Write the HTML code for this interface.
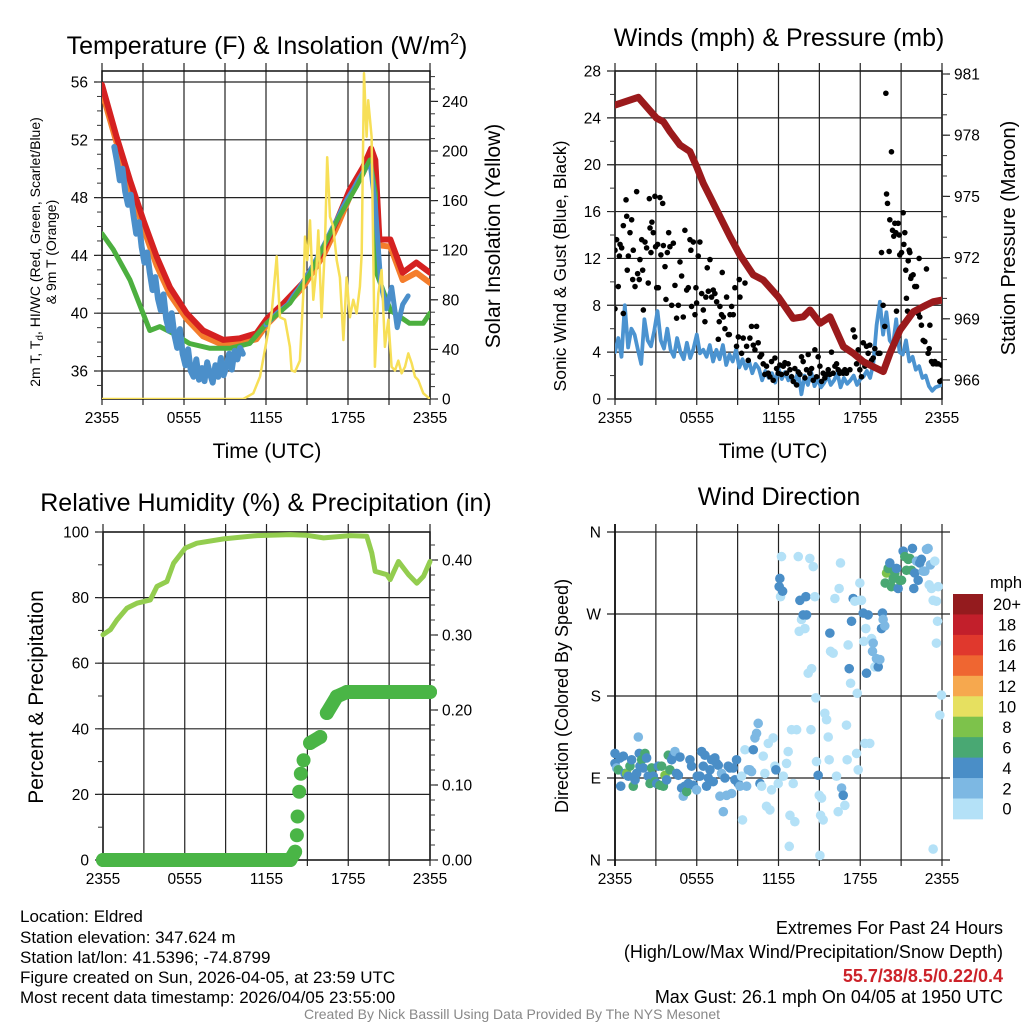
<!DOCTYPE html>
<html><head><meta charset="utf-8">
<style>
html,body{margin:0;padding:0;background:#fff;}
svg{display:block;font-family:"Liberation Sans",Arial,sans-serif;}
</style></head>
<body>
<svg id="fig" width="1024" height="1024" viewBox="0 0 1024 1024" xmlns="http://www.w3.org/2000/svg">
<rect x="0" y="0" width="1024" height="1024" fill="#fff"/>
<g id="g1"></g>
<g id="g2"></g>
<g id="g3"></g>
<g id="g4"></g>
<text x="267" y="54" font-size="25" text-anchor="middle">Temperature (F) &amp; Insolation (W/m<tspan dy="-10" font-size="16">2</tspan><tspan dy="10">)</tspan></text>
<text x="779" y="46" font-size="25" text-anchor="middle">Winds (mph) &amp; Pressure (mb)</text>
<text x="266" y="511" font-size="25" text-anchor="middle">Relative Humidity (%) &amp; Precipitation (in)</text>
<text x="779" y="505" font-size="25" text-anchor="middle">Wind Direction</text>
<text x="267" y="458" font-size="21" text-anchor="middle">Time (UTC)</text>
<text x="773" y="458" font-size="21" text-anchor="middle">Time (UTC)</text>
<text transform="translate(40,252) rotate(-90)" font-size="14" text-anchor="middle">2m T, T<tspan dy="3" font-size="10">d</tspan><tspan dy="-3">, HI/WC (Red, Green, Scarlet/Blue)</tspan></text>
<text transform="translate(56,252) rotate(-90)" font-size="14" text-anchor="middle">&amp; 9m T (Orange)</text>
<text transform="translate(500,236) rotate(-90)" font-size="21" text-anchor="middle">Solar Insolation (Yellow)</text>
<text transform="translate(566,266) rotate(-90)" font-size="17.5" text-anchor="middle">Sonic Wind &amp; Gust (Blue, Black)</text>
<text transform="translate(1015,238) rotate(-90)" font-size="20" text-anchor="middle">Station Pressure (Maroon)</text>
<text transform="translate(43,697) rotate(-90)" font-size="21" text-anchor="middle">Percent &amp; Precipitation</text>
<text transform="translate(568,696) rotate(-90)" font-size="18" text-anchor="middle">Direction (Colored By Speed)</text>
<g font-size="17">
<text x="20" y="922">Location: Eldred</text>
<text x="20" y="943">Station elevation: 347.624 m</text>
<text x="20" y="963">Station lat/lon: 41.5396; -74.8799</text>
<text x="20" y="983">Figure created on Sun, 2026-04-05, at 23:59 UTC</text>
<text x="20" y="1003">Most recent data timestamp: 2026/04/05 23:55:00</text>
</g>
<g font-size="18" text-anchor="end">
<text x="1003" y="934">Extremes For Past 24 Hours</text>
<text x="1003" y="958">(High/Low/Max Wind/Precipitation/Snow Depth)</text>
<text x="1003" y="982" fill="#cc2229" font-weight="bold">55.7/38/8.5/0.22/0.4</text>
<text x="1003" y="1003">Max Gust: 26.1 mph On 04/05 at 1950 UTC</text>
</g>
<text x="512" y="1019" font-size="14" fill="#888" text-anchor="middle">Created By Nick Bassill Using Data Provided By The NYS Mesonet</text>
</svg>
<script>
// ---------- data ----------
const xTickHours = [0, 6, 12, 18, 24];
const xTickLabels = ["2355", "0555", "1155", "1755", "2355"];
const tempTicks = [36, 40, 44, 48, 52, 56];
const solarTicks = [0, 40, 80, 120, 160, 200, 240];
const windTicks = [0, 4, 8, 12, 16, 20, 24, 28];
const presTicks = [966, 969, 972, 975, 978, 981];
const rhTicks = [0, 20, 40, 60, 80, 100];
const precipTicks = [0, 0.1, 0.2, 0.3, 0.4];
const dirTicks = [0, 90, 180, 270, 360];
const dirLabels = ["N", "E", "S", "W", "N"];

const tempHours = [0,1.07,2.05,3.02,4.0,4.97,6.2,7.4,8.87,10.1,11.3,12.05,13.3,14.7,16.2,17.2,18.1,19.1,19.7,20.0,20.3,21.1,22.0,23.0,24];
const temp2m = [55.8,52.2,49.2,46.45,43.9,41.8,40.0,38.8,38.15,38.26,38.6,39.6,40.7,42.1,44.4,46.45,48.5,50.1,51.4,50.6,45.1,45.1,42.8,43.5,42.8];
const temp9m = [55.3,51.8,48.7,45.9,43.3,41.3,39.6,38.4,37.8,37.9,38.2,39.2,40.4,41.8,44.0,46.0,48.0,49.7,51.0,50.3,44.7,44.6,42.3,42.8,42.1];
const hiwcHours = [0,0.83,2.05,3.0,3.5,4.24,5.2,6.4,7.9,9.36,10.8,12.05,13.75,15.2,17.2,18.6,19.6,20.0,20.1,21.1,22.5,23.5,24];
const hiwc = [45.5,44.4,42.3,40.0,38.8,39.07,38.6,37.9,37.57,37.57,37.9,39.3,40.7,42.76,46.45,48.75,50.6,48.3,42.76,40.2,39.3,39.3,40.0];
const dewStartA = 0.9, dewStepA = 0.2;
const dewA = [51.5,50.5,49.2,50.0,48.4,47.5,48.2,46.8,45.5,46.3,44.6,43.5,44.2,42.8,41.6,42.5,41.0,40.2,41.3,39.6,38.8,40.0,38.5,37.6,38.9,37.2,36.4,37.5,36.0,35.6,36.8,35.4,36.2,35.3,36.6,35.8,35.2,36.4,35.6,36.9,35.7,36.3,37.2,36.1,37.4,36.8,37.6,37.2];
const dewStartB = 12.0, dewStepB = 0.4;
const dewB = [39.2,39.6,40.0,40.3,40.6,41.2,41.7,42.3,42.9,43.6,44.3,45.0,45.8,46.5,47.3,48.0,48.6,49.3,49.9,50.5,47.5,42.0,40.3,41.8,39.0,40.6,41.2];
const solarHours = [0,10.34,11.07,11.56,12.05,12.41,12.78,13.02,13.39,13.75,13.87,14.12,14.48,14.73,14.85,15.02,15.22,15.46,15.7,15.83,16.07,16.31,16.48,16.68,16.92,17.17,17.41,17.66,17.9,18.14,18.39,18.63,18.87,19.0,19.17,19.36,19.48,19.73,19.97,20.22,20.46,20.7,20.95,21.19,21.44,21.68,21.92,22.17,22.41,22.66,22.9,23.14,23.51,24];
const solar = [0,0,4.6,18,47.6,69,115,66,64,42,23,22,31,85,131,112,144,80,107,136,66,123,195,147,139,112,98,47.6,98,66,80,69,90.6,117.5,262.7,211.5,241,211.5,26,85,104,42,64,26,23,31,20.7,26,36.8,28.8,18,15.3,4.6,0];

const windStep = 0.24;
const wind = [4,5.2,3.6,8,4.4,6,5.5,4.2,3,6.8,5,4.5,5.8,7.5,5,4.3,
6,4.2,3.6,5.2,4,3.4,4.8,3.5,4.3,5.5,3.9,4.2,
3.6,4.6,3.2,4.2,3.4,4.6,2.9,3.8,3.2,4.2,2.7,3.4,
2.6,3.2,2.2,3.0,2.6,1.6,2.4,1.8,2.2,1.4,2.6,1.7,
2.3,1.6,2.0,1.3,2.4,0.4,2.0,1.2,2.3,1.1,1.7,1.0,
1.4,2.0,1.2,1.6,2.2,1.0,1.8,1.3,1.6,2.0,1.2,1.7,
1.9,2.4,1.8,3.0,6.3,8.3,5.5,7.4,5.0,4.6,6.8,4.0,
3.8,5.0,3.2,3.6,2.5,2.8,1.8,2.0,1.1,0.7,1.0,1.1,1.2];
const gustObs = [[0,7.7],[0,12.7],[0.12,13.6],[0.24,9.6],[0.32,12.2],[0.37,13.2],[0.49,12.9],[0.61,14.8],[0.61,7.3],[0.81,17.0],
[0.86,15.6],[0.9,11.0],[0.98,12.2],[1.1,14.2],[1.22,15.3],[1.3,10.2],[1.34,12.7],[1.47,9.6],[1.59,17.7],[1.66,10.7],
[1.78,10.2],[1.83,11.9],[1.96,13.6],[2.03,11.0],[2.08,7.6],[2.2,13.4],[2.32,12.9],[2.44,9.9],[2.52,17.1],[2.57,14.6],
[2.64,12.5],[2.71,15.1],[2.81,14.2],[2.93,17.3],[2.98,13.0],[3.06,9.5],[3.13,13.2],[3.18,9.5],[3.3,17.2],[3.37,12.3],
[3.5,16.7],[3.55,13.1],[3.67,11.3],[3.74,8.5],[3.84,12.5],[3.94,14.2],[4.03,13.0],[4.16,8.0],[4.28,13.3],[4.4,9.7],
[4.52,6.9],[4.65,8.0],[4.77,11.7],[4.89,10.5],[5.01,7.0],[5.13,14.4],[5.26,9.3],[5.38,9.5],[5.5,13.6],[5.57,12.7],
[5.62,7.9],[5.75,13.4],[5.87,7.2],[5.94,9.5],[5.99,8.2],[6.11,12.2],[6.23,13.4],[6.36,9.0],[6.48,7.6],[6.6,6.6],
[6.67,8.7],[6.77,11.2],[6.85,9.2],[6.97,11.9],[7.09,8.7],[7.21,9.3],[7.33,9.0],[7.46,8.3],[7.58,5.1],[7.65,6.6],
[7.7,7.9],[7.82,7.2],[7.87,10.8],[7.95,7.0],[8.07,6.0],[8.19,8.7],[8.31,5.5],[8.39,5.5],[8.44,7.2],[8.56,7.9],
[8.68,7.2],[8.8,9.5],[8.92,4.5],[9.05,5.3],[9.12,10.2],[9.17,8.7],[9.29,3.9],[9.41,5.2],[9.54,9.9],[9.66,4.5],
[9.78,3.3],[9.9,5.2],[10.02,6.2],[10.15,4.6],[10.27,4.2],[10.39,6.2],[10.51,4.8],[10.64,3.6],[10.76,3.8],[10.88,3.0],
[11.0,2.1],[11.12,2.8],[11.25,2.2],[11.37,1.9],[11.49,3.2],[11.61,1.6],[11.74,3.5],[11.86,2.6],[11.98,2.2],[12.1,2.9],
[12.22,2.1],[12.35,2.8],[12.47,3.1],[12.59,2.2],[12.71,3.0],[12.84,2.5],[12.96,1.9],[13.08,1.5],[13.2,2.6],[13.33,1.2],
[13.45,2.3],[13.57,2.1],[13.69,3.6],[13.81,3.2],[13.94,1.8],[14.06,2.5],[14.18,3.8],[14.3,2.2],[14.43,2.6],[14.55,1.6],
[14.67,4.2],[14.79,1.9],[14.91,3.6],[15.04,2.8],[15.16,1.5],[15.28,2.2],[15.4,1.8],[15.53,2.1],[15.65,2.5],[15.77,2.1],
[15.89,4.0],[16.01,2.2],[16.14,2.8],[16.26,3.0],[16.38,2.5],[16.5,2.2],[16.63,2.3],[16.75,2.2],[16.87,2.5],[16.99,2.2],
[17.24,2.5],[17.48,5.9],[17.6,5.3],[17.73,3.0],[17.85,4.2],[17.97,2.5],[18.09,1.9],[18.22,4.8],[18.34,2.8],[18.46,4.5],
[18.58,3.9],[18.7,4.6],[18.83,3.3],[18.95,3.5],[19.07,4.3],[19.19,2.6],[19.32,3.9],[19.44,3.9],[19.56,12.5],[19.68,8.0],
[19.8,6.2],[19.88,26.1],[19.93,17.5],[20.0,16.7],[20.12,12.6],[20.17,15.3],[20.29,21.1],[20.37,14.4],[20.46,13.9],[20.54,15.0],
[20.61,14.2],[20.66,7.5],[20.78,15.0],[20.86,14.0],[20.9,12.3],[21.03,12.5],[21.15,15.9],[21.2,13.2],[21.27,14.2],[21.34,11.0],
[21.39,8.6],[21.47,7.5],[21.52,11.8],[21.59,12.7],[21.64,12.5],[21.71,10.3],[21.76,10.5],[21.88,10.6],[22.0,9.6],[22.13,9.6],
[22.25,7.3],[22.32,12.0],[22.37,7.0],[22.49,6.3],[22.62,5.0],[22.74,4.9],[22.86,11.1],[22.98,3.9],[23.06,4.3],[23.11,6.3],
[23.23,3.2],[23.35,3.0],[23.47,3.2],[23.59,3.0],[23.72,3.0],[23.84,1.5],[23.96,2.9],[24.0,1.6],[24.0,2.9]];
const presHours = [0,1.71,3.06,3.55,4.04,4.77,5.5,5.99,6.48,6.97,7.83,8.44,9.17,10.15,10.88,11.98,13.08,13.82,14.31,15.05,15.78,16.76,17.49,18.22,18.96,19.69,20.18,20.92,21.9,22.88,23.37,24];
const pressure = [979.48,979.86,978.83,978.66,978.17,977.52,977.2,976.46,975.64,974.99,973.84,973.03,972.13,971.15,970.9,970.08,969.02,969.1,969.43,968.78,969.1,967.63,967.31,966.9,966.65,966.41,967.31,968.45,969.35,969.68,969.84,969.92];

const rhHours = [0,0.54,1.03,1.76,2.49,3.47,3.96,4.69,5.18,6.04,6.89,8.85,11.3,13.74,14.96,16.19,18.14,19.36,19.73,19.98,20.83,21.08,21.69,22.42,23.03,23.52,24];
const rh = [68.7,70.2,73.2,76.8,78.3,79.3,83.4,84.9,90.5,95.1,96.6,97.9,98.9,99.2,99.0,98.2,98.9,98.7,93.6,88.0,87.0,85.5,91.0,87.0,84.4,86.5,91.0];
const precipHours = [0,13.74,14.1,14.23,14.28,14.4,14.52,14.72,15.2,15.94,16.43,17.16,17.9,24];
const precip = [0,0,0.011,0.033,0.058,0.091,0.115,0.133,0.156,0.164,0.196,0.218,0.224,0.224];

const dirObs = [[0,117,5],[0,106,5],[0.12,101,3],[0.24,99,7],[0.37,112,5],[0.42,81,5],[0.61,114,5],[0.73,95,5],[0.86,95,9],[0.98,92,5],
[1.1,103,7],[1.22,110,5],[1.34,81,7],[1.47,88,5],[1.59,95,5],[1.71,135,3],[1.78,117,5],[1.83,103,5],[1.96,110,7],[2.08,101,5],
[2.2,117,7],[2.32,112,5],[2.44,92,5],[2.57,84,7],[2.69,101,7],[2.81,92,5],[2.93,86,7],[3.06,84,5],[3.18,103,5],[3.3,82,7],
[3.42,103,7],[3.55,81,7],[3.67,93,9],[3.79,88,5],[3.91,115,7],[4.03,99,7],[4.16,110,5],[4.28,115,5],[4.4,119,3],[4.52,95,5],
[4.65,93,5],[4.77,113,5],[4.89,79,5],[5.01,70,3],[5.13,81,5],[5.26,75,7],[5.38,84,5],[5.5,110,5],[5.62,103,5],[5.75,82,5],
[5.99,77,3],[6.04,92,5],[6.23,92,5],[6.36,119,5],[6.48,103,5],[6.6,115,5],[6.72,81,5],[6.85,90,5],[6.97,99,5],[7.09,110,5],
[7.21,86,5],[7.33,112,5],[7.46,106,5],[7.58,104,5],[7.7,70,3],[7.82,95,3],[7.95,53,3],[8.07,90,5],[8.19,71,3],[8.31,103,5],
[8.44,101,5],[8.56,73,3],[8.68,101,5],[8.8,88,5],[8.92,110,5],[9.05,84,5],[9.17,81,3],[9.29,92,1],[9.36,44,1],[9.54,121,1],
[9.66,81,3],[9.78,99,3],[9.9,99,3],[10.02,97,3],[10.15,121,5],[10.27,134,3],[10.39,139,3],[10.51,150,3],[10.64,84,5],[10.76,81,1],
[10.88,114,1],[11.0,95,1],[11.12,59,1],[11.25,128,1],[11.37,55,1],[11.49,77,1],[11.61,134,1],[11.74,103,1],[11.81,99,5],[11.98,84,1],
[12.05,300,5],[12.1,309,5],[12.15,289,1],[12.22,333,1],[12.3,295,5],[12.35,92,1],[12.59,106,1],[12.71,119,1],[12.84,49,1],[12.79,15,1],
[12.96,143,1],[13.08,84,1],[13.2,42,1],[13.33,143,1],[13.45,333,1],[13.52,251,1],[13.57,285,5],[13.69,264,1],[13.81,269,5],[13.94,254,1],
[14.01,289,5],[14.06,269,5],[14.18,205,1],[14.3,331,1],[14.38,143,1],[14.43,210,1],[14.55,322,1],[14.67,289,1],[14.74,178,1],[14.79,108,1],
[14.91,93,5],[14.99,71,1],[15.04,5,1],[15.09,49,1],[15.16,68,1],[15.28,44,1],[15.4,161,1],[15.53,154,1],[15.65,135,1],[15.72,110,1],
[15.77,249,5],[15.82,229,1],[16.01,227,1],[16.14,287,1],[16.26,92,1],[16.38,53,1],[16.45,298,1],[16.55,326,1],[16.63,79,3],[16.75,71,5],
[16.87,60,1],[16.99,148,1],[17.04,110,1],[17.11,236,1],[17.19,210,5],[17.29,194,1],[17.36,262,5],[17.48,287,5],[17.6,284,1],[17.73,117,1],
[17.78,183,1],[17.85,99,1],[17.97,304,1],[18.02,285,1],[18.09,285,1],[18.22,271,5],[18.26,240,1],[18.34,128,1],[18.41,254,1],[18.46,205,5],
[18.58,269,5],[18.7,128,1],[18.83,243,1],[18.9,229,3],[18.95,238,3],[19.07,212,1],[19.19,221,3],[19.32,212,5],[19.44,220,3],[19.56,254,5],
[19.63,271,5],[19.68,264,3],[19.8,257,3],[19.83,304,7],[19.93,315,9],[20.05,320,7],[20.17,326,5],[20.29,300,7],[20.42,309,7],[20.54,315,7],
[20.66,320,5],[20.78,298,5],[20.9,307,7],[21.03,307,7],[21.15,339,5],[21.27,333,7],[21.39,318,7],[21.52,330,7],[21.64,331,7],[21.76,318,7],
[21.83,342,5],[21.93,298,5],[22.0,315,5],[22.13,328,3],[22.25,307,5],[22.37,326,5],[22.49,330,5],[22.62,317,3],[22.74,317,3],[22.86,341,3],
[22.98,342,3],[23.06,302,1],[23.15,324,3],[23.23,298,1],[23.35,285,1],[23.47,328,1],[23.59,284,1],[23.67,262,1],[23.72,300,1],[23.59,238,1],
[23.84,159,1],[23.96,181,1],[23.35,12,1]];
const speedBinLabels = ["20+","18","16","14","12","10","8","6","4","2","0"];
const speedBinColors = ["#941b1e","#c21f2b","#e0382d","#ef6631","#f6a84e","#e6e060","#7dc24b","#49a873","#4a8ec7","#7db8e3","#b4e1f7"];

// ---------- helpers ----------
const NS = "http://www.w3.org/2000/svg";
const TICK_FS = 15.5;
function mk(parent, tag, attrs) {
  const e = document.createElementNS(NS, tag);
  for (const k in attrs) e.setAttribute(k, attrs[k]);
  parent.appendChild(e);
  return e;
}
function lin(d0, d1, r0, r1) { return v => r0 + (v - d0) * (r1 - r0) / (d1 - d0); }
function pathFrom(xs, ys) { return xs.map((x, i) => (i ? "L" : "M") + x.toFixed(1) + "," + ys[i].toFixed(1)).join(""); }

function frame(g, L, R, T, B, xS) {
  for (let h = 0; h <= 24; h += 3) {
    const x = xS(h);
    const ln = mk(g, "line", {x1: x, x2: x, y1: T - 8, y2: B + 6, stroke: "#222", "stroke-width": 1.2});
    
    
  }
  xTickHours.forEach((h, i) => {
    const t = mk(g, "text", {x: xS(h), y: B + 24, "font-size": TICK_FS, "text-anchor": "middle"});
    t.textContent = xTickLabels[i];
    
    
  });
  const r = mk(g, "rect", {x: L, y: T, width: R - L, height: B - T, fill: "none", stroke: "#111", "stroke-width": 1.5});
  
  
}
function leftAxis(g, L, R, ticks, yS, labels, minorStep, lo, hi) {
  ticks.forEach((v, i) => {
    const y = yS(v);
    const gl = mk(g, "line", {x1: L - 8, x2: R, y1: y, y2: y, stroke: "#222", "stroke-width": 1.2});
    
    
    const t = mk(g, "text", {x: L - 14, y: y + 5.5, "font-size": TICK_FS, "text-anchor": "end"});
    t.textContent = labels ? labels[i] : v;
    
    
  });
  if (minorStep) for (let v = lo; v <= hi + 1e-9; v += minorStep) {
    const y = yS(v);
    mk(g, "line", {x1: L - 5, x2: L, y1: y, y2: y, stroke: "#333", "stroke-width": 1});
  }
}
function rightAxis(g, R, ticks, yS, fmt, minorStep, lo, hi) {
  ticks.forEach(v => {
    const y = yS(v);
    mk(g, "line", {x1: R, x2: R + 8, y1: y, y2: y, stroke: "#222", "stroke-width": 1.2});
    const t = mk(g, "text", {x: R + 12, y: y + 5.5, "font-size": TICK_FS, "text-anchor": "start"});
    t.textContent = fmt(v);
    
    
  });
  if (minorStep) for (let v = lo; v <= hi + 1e-9; v += minorStep) {
    const y = yS(v);
    mk(g, "line", {x1: R, x2: R + 5, y1: y, y2: y, stroke: "#333", "stroke-width": 1});
  }
}
function drawLine(g, name, xs, ys, color, w) {
  const p = mk(g, "path", {d: pathFrom(xs, ys), fill: "none", stroke: color, "stroke-width": w, "stroke-linejoin": "round", "stroke-linecap": "round"});
  
  
  return p;
}

// ---------- panel 1: temperature ----------
(function () {
  const g = document.getElementById("g1");
  const L = 102, R = 430, T = 71, B = 399;
  const xS = lin(0, 24, L, R);
  const yS = lin(56, 36, 82, 371);
  const y2 = lin(0, 240, 399, 101.4);
  frame(g, L, R, T, B, xS);
  leftAxis(g, L, R, tempTicks, yS, null, 1, 35, 56);
  rightAxis(g, R, solarTicks, y2, v => v, 10, 0, 260);
  const clip = mk(g, "clipPath", {id: "c1"});
  mk(clip, "rect", {x: L, y: T, width: R - L, height: B - T});
  const d = mk(g, "g", {"clip-path": "url(#c1)"});
  drawLine(d, "series-9m-temp", tempHours.map(xS), temp9m.map(yS), "#f47d2c", 6);
  drawLine(d, "series-2m-temp", tempHours.map(xS), temp2m.map(yS), "#d52121", 6);
  drawLine(d, "series-hi-wc", hiwcHours.map(xS), hiwc.map(yS), "#4caf3f", 5);
  drawLine(d, "series-dewpoint-night", dewA.map((v, i) => xS(dewStartA + i * dewStepA)), dewA.map(yS), "#4b8fca", 6);
  drawLine(d, "series-dewpoint-day", dewB.map((v, i) => xS(dewStartB + i * dewStepB)), dewB.map(yS), "#4b8fca", 5);
  drawLine(d, "series-dewpoint-day-cover", hiwcHours.slice(11, 17).map(xS), hiwc.slice(11, 17).map(yS), "#4caf3f", 4);
  drawLine(d, "series-solar", solarHours.map(xS), solar.map(y2), "#f7df57", 2.5);
})();

// ---------- panel 2: wind & pressure ----------
(function () {
  const g = document.getElementById("g2");
  const L = 615, R = 942, T = 71, B = 399;
  const xS = lin(0, 24, L, R);
  const yS = lin(0, 28, 399, 71);
  const y2 = lin(981, 966, 74, 380);
  frame(g, L, R, T, B, xS);
  leftAxis(g, L, R, windTicks, yS, null, 2, 0, 28);
  rightAxis(g, R, presTicks, y2, v => v, 1, 966, 981);
  const clip = mk(g, "clipPath", {id: "c2"});
  mk(clip, "rect", {x: L, y: T, width: R - L, height: B - T});
  const d = mk(g, "g", {"clip-path": "url(#c2)"});
  drawLine(d, "series-sonic-wind", wind.map((v, i) => xS(i * windStep)), wind.map(yS), "#4b93d0", 3.8);
  gustObs.forEach(o => {
    const c = mk(d, "circle", {cx: xS(o[0]), cy: yS(o[1]), r: 2.8, fill: "#000"});
    
    
  });
  drawLine(d, "series-pressure", presHours.map(xS), pressure.map(y2), "#9b1a1c", 7);
})();

// ---------- panel 3: humidity & precip ----------
(function () {
  const g = document.getElementById("g3");
  const L = 103, R = 430, T = 532, B = 860;
  const xS = lin(0, 24, L, R);
  const yS = lin(0, 100, 860, 532);
  const y2 = lin(0, 0.4, 860, 560);
  frame(g, L, R, T, B, xS);
  leftAxis(g, L, R, rhTicks, yS, null, 10, 0, 100);
  rightAxis(g, R, precipTicks, y2, v => v.toFixed(2), 0.02, 0, 0.42);
  drawLine(g, "series-relative-humidity", rhHours.map(xS), rh.map(yS), "#93cd4f", 5);
  const pg = mk(g, "g", {});
  
  
  for (let i = 0; i < precip.length; i++) {
    const x = xS(precipHours[i]), y = y2(precip[i]);
    if (i > 0) {
      const px = xS(precipHours[i - 1]), py = y2(precip[i - 1]);
      if (Math.abs(py - y) < 9 || Math.abs(px - x) > 8) mk(pg, "line", {x1: px, y1: py, x2: x, y2: y, stroke: "#4ab546", "stroke-width": 14, "stroke-linecap": "round"});
    }
    const c = mk(pg, "circle", {cx: x, cy: y, r: 7, fill: "#4ab546"});
    
    
  }
})();

// ---------- panel 4: wind direction ----------
(function () {
  const g = document.getElementById("g4");
  const L = 615, R = 942, T = 532, B = 860;
  const xS = lin(0, 24, L, R);
  const yS = lin(0, 360, 860, 532);
  for (let h = 0; h <= 24; h += 3) {
    const x = xS(h);
    const ln = mk(g, "line", {x1: x, x2: x, y1: T - 8, y2: B + 6, stroke: "#222", "stroke-width": 1.2});
    
    
  }
  xTickHours.forEach((h, i) => {
    const t = mk(g, "text", {x: xS(h), y: B + 24, "font-size": TICK_FS, "text-anchor": "middle"});
    t.textContent = xTickLabels[i];
    
    
  });
  dirTicks.forEach((v, i) => {
    const y = yS(v);
    const gl = mk(g, "line", {x1: L - 8, x2: 950, y1: y, y2: y, stroke: "#222", "stroke-width": 1.2});
    
    
    const t = mk(g, "text", {x: L - 14, y: y + 5.5, "font-size": TICK_FS, "text-anchor": "end"});
    t.textContent = dirLabels[i];
    
    
  });
  mk(g, "line", {x1: L, x2: L, y1: T - 8, y2: B + 6, stroke: "#111", "stroke-width": 1.8});
  function colorFor(s) {
    const idx = Math.min(10, Math.floor(s / 2));
    return speedBinColors[10 - idx];
  }
  dirObs.forEach(o => {
    const c = mk(g, "circle", {cx: xS(o[0]), cy: yS(o[1]), r: 4.8, fill: colorFor(o[2])});
    
    
  });
  const lg = mk(g, "g", {});
  
  
  const mt = mk(lg, "text", {x: 1006, y: 588, "font-size": 16.5, "text-anchor": "middle"});
  mt.textContent = "mph";
  
  
  const h = 20.45;
  speedBinLabels.forEach((lab, i) => {
    const y0 = 594 + i * h;
    const b = mk(lg, "rect", {x: 953, y: y0, width: 30, height: h + 0.4, fill: speedBinColors[i]});
    
    
    const t = mk(lg, "text", {x: 1007, y: y0 + h / 2 + 6, "font-size": 16.5, "text-anchor": "middle"});
    t.textContent = lab;
    
    
  });
})();
</script>
</body></html>
